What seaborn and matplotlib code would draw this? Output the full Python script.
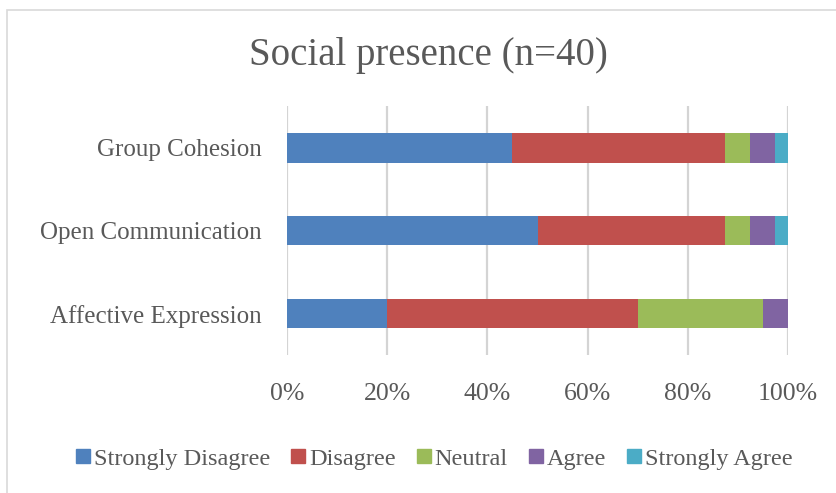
import matplotlib
matplotlib.use("Agg")
import matplotlib.pyplot as plt
import seaborn as sns
import pandas as pd
import numpy as np
from matplotlib.patches import Rectangle
from matplotlib.lines import Line2D

categories = ["Group Cohesion", "Open Communication", "Affective Expression"]
series = ["Strongly Disagree", "Disagree", "Neutral", "Agree", "Strongly Agree"]
strongly_disagree = [45.0, 50.0, 20.0]
disagree = [42.5, 37.5, 50.0]
neutral = [5.0, 5.0, 25.0]
agree = [5.0, 5.0, 5.0]
strongly_agree = [2.5, 2.5, 0.0]
colors = ["#4F81BD", "#C0504D", "#9BBB59", "#8064A2", "#4BACC6"]
xticks = [0, 20, 40, 60, 80, 100]
xticklabels = ["0%", "20%", "40%", "60%", "80%", "100%"]

sns.set_style("white")
plt.rcParams["font.family"] = ["Liberation Serif", "DejaVu Serif"]
text_color = "#595959"

fig = plt.figure(figsize=(8.36, 4.93), dpi=100)
ax = fig.add_axes([0.3433, 0.279, 0.5993, 0.505])

vals = [strongly_disagree, disagree, neutral, agree, strongly_agree]
cum = np.cumsum(np.array(vals), axis=0)
for i in range(len(series) - 1, -1, -1):
    df = pd.DataFrame({"cat": categories, "val": cum[i]})
    sns.barplot(data=df, y="cat", x="val", orient="h", color=colors[i],
                saturation=1, width=0.35, ax=ax, edgecolor="none", zorder=3)

ax.set_xlim(0, 100)
ax.set_xticks(xticks)
ax.set_xticklabels(xticklabels, fontsize=18.5, color=text_color)
ax.set_ylabel("")
ax.set_xlabel("")
ax.tick_params(axis="y", labelsize=18, labelcolor=text_color, length=0, pad=18)
ax.tick_params(axis="x", length=0, pad=20)
for s in ax.spines.values():
    s.set_visible(False)
ax.grid(axis="x", color="#D4D4D4", linewidth=1.6, zorder=0)
ax.set_axisbelow(True)

fig.text(0.5126, 0.888, "Social presence (n=40)", ha="center", va="center",
         fontsize=28, color=text_color)

handles = [Line2D([0], [0], marker="s", linestyle="none", markersize=10,
                  markerfacecolor=c, markeredgecolor=c) for c in colors]
fig.legend(handles, series, loc="center", bbox_to_anchor=(0.5185, 0.069), ncol=5,
           frameon=False, fontsize=17.5, labelcolor=text_color,
           handletextpad=0.1, columnspacing=0.8, handlelength=0.7)

fig.patches.append(Rectangle((7 / 836, -0.01), 1.0, 1 - 10 / 493 + 0.01,
                             transform=fig.transFigure, fill=False,
                             edgecolor="#D9D9D9", linewidth=1.2))

fig.savefig("out.png", dpi=100)
